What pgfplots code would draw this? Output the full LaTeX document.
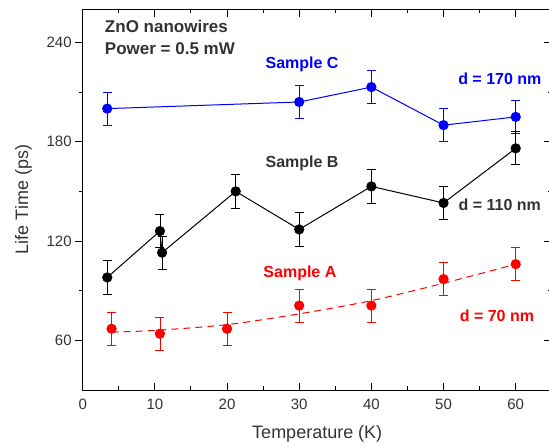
\documentclass[border=0pt]{standalone}
\usepackage{fontspec}
\setmainfont{Liberation Sans}
\usepackage{pgfplots}
\pgfplotsset{compat=1.18}
\definecolor{txt}{HTML}{333333}
\definecolor{cblue}{HTML}{0000FF}
\definecolor{cred}{HTML}{FF0000}

\pgfplotsset{
  frame/.style={
    at={(0,0)}, anchor=south west,
    scale only axis, width=469.1pt, height=380.7pt,
    xmin=0, xmax=65, ymin=30, ymax=260,
    xtick={0,10,...,60}, minor x tick num=1,
    ytick={60,120,180,240}, minor y tick num=1,
    major tick length=7.5pt, minor tick length=4pt,
    axis line style={line width=1pt},
    every tick/.style={black, line width=1pt},
    tick label style={font=\fontsize{15}{18}\selectfont, text=txt},
    xticklabel style={yshift=-5pt},
    label style={font=\fontsize{18}{21}\selectfont, text=txt},
    /pgf/number format/assume math mode=true,
  },
  ser/.style={line width=1pt, mark=*, mark size=4.6pt, mark options={solid},
    error bars/y dir=both, error bars/y explicit,
    error bars/error bar style={line width=0.8pt, solid},
    error bars/error mark options={rotate=90, line width=0.8pt, mark size=4.5pt}},
}
\tikzset{ann/.style={anchor=base, font=\bfseries\fontsize{16}{19}\selectfont}}

\begin{document}
\begin{tikzpicture}
\begin{axis}[frame, hide x axis, ytick pos=left, tick align=outside,
  ylabel={Life Time (ps)}, ylabel style={yshift=8pt}]
\end{axis}
\begin{axis}[frame, ytick pos=right, yticklabels={}, tick align=inside,
  xlabel={Temperature (K)}, xlabel style={yshift=-9pt}, clip=false]

% Sample C
\addplot[color=cblue, ser] coordinates {
  (3.4,200) +- (0,10)
  (30,204) +- (0,10)
  (40,213) +- (0,10)
  (50,190) +- (0,10)
  (60,195) +- (0,10)
};
% Sample B
\addplot[color=black, ser] coordinates {
  (3.4,98) +- (0,10)
  (10.7,126) +- (0,10)
  (11,113) +- (0,10)
  (21.2,150) +- (0,10)
  (30,127) +- (0,10)
  (40,153) +- (0,10)
  (50,143) +- (0,10)
  (60,176) +- (0,10)
};
% Sample A fit
\addplot[cred, line width=1pt, dash pattern=on 7pt off 5pt, smooth] coordinates {
  (4,65) (10,66) (20,69.5) (30,76) (40,84) (50,94.5) (60,106)
};
% Sample A
\addplot[color=cred, only marks, ser] coordinates {
  (4,67) +- (0,10)
  (10.7,64) +- (0,10)
  (20,67) +- (0,10)
  (30,81) +- (0,10)
  (40,81) +- (0,10)
  (50,97) +- (0,10)
  (60,106) +- (0,10)
};

\node[ann, anchor=base west, text=txt, font=\bfseries\fontsize{17}{20}\selectfont] at (axis cs:2.6,245.7) {ZnO nanowires};
\node[ann, anchor=base west, text=txt, font=\bfseries\fontsize{17}{20}\selectfont] at (axis cs:2.6,232.6) {Power = 0.5 mW};
\node[ann, text=cblue] at (axis cs:30.4,224) {Sample C};
\node[ann, text=cblue] at (axis cs:57.8,214.4) {d = 170 nm};
\node[ann, text=txt] at (axis cs:30.4,164.5) {Sample B};
\node[ann, text=txt] at (axis cs:57.8,138.5) {d = 110 nm};
\node[ann, text=cred] at (axis cs:30.1,98) {Sample A};
\node[ann, text=cred] at (axis cs:57.4,71.4) {d = 70 nm};
\end{axis}
\pgfresetboundingbox
\path[use as bounding box] (-82.7pt,-55pt) rectangle (466.3pt,390pt);
\end{tikzpicture}
\end{document}
